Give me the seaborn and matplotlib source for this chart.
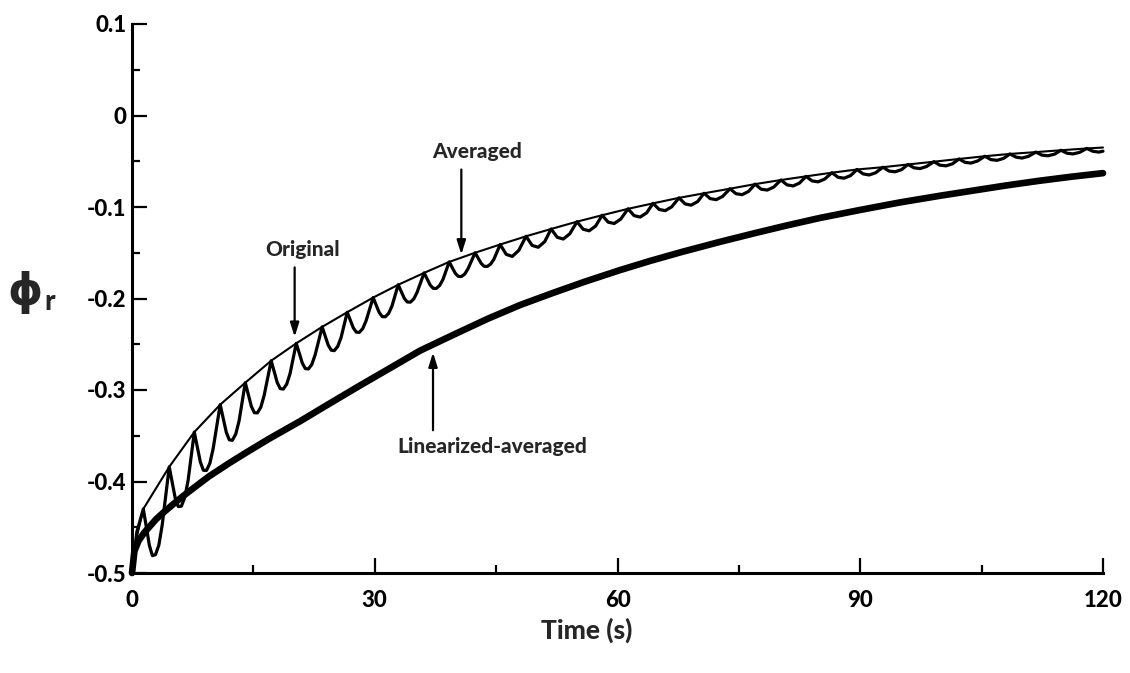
import matplotlib
matplotlib.use("Agg")
import matplotlib.pyplot as plt
import seaborn as sns

# --- data ---
# averaged curve (thin): start, then the points where the original touches it
t_avg = [0.0, 0.4, 1.4, 4.6, 7.7, 10.9, 14.0, 17.2, 20.3, 23.5, 26.6, 29.8, 32.9,
         36.1, 39.2, 42.4, 45.5, 48.7, 51.8, 55.0, 58.1, 61.3, 64.4, 67.6, 70.7,
         73.9, 77.0, 80.2, 83.3, 86.5, 89.6, 92.8, 95.9, 99.1, 102.2, 105.4,
         108.5, 111.7, 114.8, 118.0, 120.0]
phi_avg = [-0.500, -0.468, -0.430, -0.384, -0.346, -0.316, -0.292, -0.268, -0.249,
           -0.231, -0.215, -0.199, -0.185, -0.172, -0.160, -0.150, -0.141, -0.132,
           -0.124, -0.116, -0.109, -0.102, -0.096, -0.090, -0.085, -0.080, -0.075,
           -0.0705, -0.0665, -0.0625, -0.059, -0.0565, -0.0535, -0.0505, -0.0475,
           -0.0445, -0.042, -0.040, -0.038, -0.036, -0.035]

# original (oscillating) curve, traced point by point along each wiggle
t_orig = [0.0, 0.6, 1.4,
          2.15, 2.52, 2.9, 3.32, 3.73, 4.6,
          5.35, 5.72, 6.1, 6.52, 6.93, 7.7,
          8.45, 8.82, 9.2, 9.62, 10.03, 10.9,
          11.65, 12.02, 12.4, 12.82, 13.23, 14.0,
          14.75, 15.12, 15.5, 15.92, 16.33, 17.2,
          17.95, 18.32, 18.7, 19.12, 19.53, 20.3,
          21.05, 21.42, 21.8, 22.22, 22.63, 23.5,
          24.25, 24.62, 25.0, 25.42, 25.83, 26.6,
          27.35, 27.72, 28.1, 28.52, 28.93, 29.8,
          30.55, 30.92, 31.3, 31.72, 32.13, 32.9,
          33.65, 34.02, 34.4, 34.82, 35.23, 36.1,
          36.85, 37.22, 37.6, 38.02, 38.43, 39.2,
          39.95, 40.32, 40.7, 41.12, 41.53, 42.4,
          43.15, 43.52, 43.9, 44.32, 44.73, 45.5,
          46.25, 47.0, 47.8, 48.7,
          49.45, 50.2, 51.0, 51.8,
          52.55, 53.3, 54.1, 55.0,
          55.75, 56.5, 57.3, 58.1,
          58.85, 59.6, 60.4, 61.3,
          62.05, 62.8, 63.6, 64.4,
          65.15, 65.9, 66.7, 67.6,
          68.35, 69.1, 69.9, 70.7,
          71.45, 72.2, 73.0, 73.9,
          74.65, 75.4, 76.2, 77.0,
          77.75, 78.5, 79.3, 80.2,
          80.95, 81.7, 82.5, 83.3,
          84.05, 84.8, 85.6, 86.5,
          87.25, 88.0, 88.8, 89.6,
          90.35, 91.1, 91.9, 92.8,
          93.55, 94.3, 95.1, 95.9,
          96.65, 97.4, 98.2, 99.1,
          99.85, 100.6, 101.4, 102.2,
          102.95, 103.7, 104.5, 105.4,
          106.15, 106.9, 107.7, 108.5,
          109.25, 110.0, 110.8, 111.7,
          112.45, 113.2, 114.0, 114.8,
          115.55, 116.3, 117.1, 118.0,
          118.75, 119.5, 120.0]
phi_orig = [-0.500, -0.455, -0.430,
            -0.470, -0.481, -0.480, -0.4695, -0.4477, -0.384,
            -0.4184, -0.4274, -0.427, -0.4175, -0.399, -0.346,
            -0.3788, -0.3877, -0.388, -0.3802, -0.364, -0.316,
            -0.3461, -0.3544, -0.355, -0.3482, -0.3339, -0.292,
            -0.3179, -0.3248, -0.325, -0.3188, -0.306, -0.268,
            -0.2919, -0.2985, -0.299, -0.2936, -0.2822, -0.249,
            -0.2706, -0.2766, -0.277, -0.2721, -0.2617, -0.231,
            -0.251, -0.2565, -0.257, -0.2524, -0.2429, -0.215,
            -0.2321, -0.2368, -0.237, -0.2328, -0.2243, -0.199,
            -0.2153, -0.2198, -0.220, -0.2162, -0.2082, -0.185,
            -0.1998, -0.2038, -0.204, -0.2005, -0.1933, -0.172,
            -0.1853, -0.1889, -0.189, -0.1858, -0.1792, -0.160,
            -0.1724, -0.1758, -0.176, -0.1733, -0.1674, -0.150,
            -0.1616, -0.1648, -0.165, -0.1624, -0.157, -0.141,
            -0.1518, -0.154, -0.1474, -0.132,
            -0.142, -0.144, -0.1379, -0.124,
            -0.1331, -0.135, -0.1293, -0.116,
            -0.1243, -0.126, -0.1208, -0.109,
            -0.1166, -0.118, -0.1132, -0.102,
            -0.1094, -0.111, -0.1064, -0.096,
            -0.1027, -0.104, -0.0998, -0.090,
            -0.0966, -0.098, -0.0941, -0.085,
            -0.0908, -0.092, -0.0884, -0.080,
            -0.0855, -0.0865, -0.083, -0.075,
            -0.0805, -0.0815, -0.0783, -0.0705,
            -0.0758, -0.077, -0.0738, -0.0665,
            -0.0715, -0.0725, -0.0695, -0.0625,
            -0.0675, -0.0685, -0.0657, -0.059,
            -0.0638, -0.065, -0.0626, -0.0565,
            -0.0607, -0.0615, -0.0592, -0.0535,
            -0.0572, -0.058, -0.0557, -0.0505,
            -0.0543, -0.055, -0.0528, -0.0475,
            -0.0512, -0.052, -0.0497, -0.0445,
            -0.0482, -0.049, -0.0469, -0.042,
            -0.0455, -0.0465, -0.0446, -0.040,
            -0.0433, -0.044, -0.0423, -0.038,
            -0.0412, -0.042, -0.0403, -0.036,
            -0.0391, -0.040, -0.039]

# linearized-averaged curve (thick)
t_lin = [0.0, 0.3, 0.8, 1.5, 2.2, 3.0, 4.0, 5.0, 6.3, 8.0, 9.5, 12.0, 14.0, 17.0,
         20.8, 24.0, 28.0, 32.0, 35.6, 40.0, 44.0, 48.0, 52.0, 56.0, 60.3, 64.0,
         68.0, 72.7, 77.0, 81.0, 85.0, 90.0, 94.9, 100.0, 104.0, 108.0, 112.0,
         116.0, 120.0]
phi_lin = [-0.500, -0.476, -0.465, -0.456, -0.449, -0.441, -0.433, -0.4255, -0.416,
           -0.4045, -0.3945, -0.380, -0.369, -0.353, -0.334, -0.317, -0.296, -0.2755,
           -0.257, -0.2385, -0.222, -0.207, -0.194, -0.1815, -0.169, -0.159, -0.149,
           -0.138, -0.1285, -0.120, -0.112, -0.1032, -0.095, -0.0875, -0.082,
           -0.0765, -0.0715, -0.067, -0.063]

x_ticks = [0, 30, 60, 90, 120]
y_ticks = [-0.5, -0.4, -0.3, -0.2, -0.1, 0.0, 0.1]
y_labels = ["-0.5", "-0.4", "-0.3", "-0.2", "-0.1", "0", "0.1"]

sns.set_theme(style="ticks")
plt.rcParams["font.family"] = ["Lato", "DejaVu Sans"]

fig = plt.figure(figsize=(11.3, 6.73), dpi=100)
ax = fig.add_axes([132 / 1130, 1 - 573 / 673, 971 / 1130, 549 / 673])

sns.lineplot(x=t_avg, y=phi_avg, ax=ax, color="black", linewidth=1.5, sort=False,
             estimator=None, clip_on=False)
sns.lineplot(x=t_orig, y=phi_orig, ax=ax, color="black", linewidth=2.3, sort=False,
             estimator=None, clip_on=False, solid_joinstyle="round")
sns.lineplot(x=t_lin, y=phi_lin, ax=ax, color="black", linewidth=4.8, sort=False,
             estimator=None, clip_on=False, solid_capstyle="round")

ax.set_xlim(0, 120)
ax.set_ylim(-0.5, 0.1)
ax.set_xticks(x_ticks)
ax.set_xticks([15, 45, 75, 105], minor=True)
ax.set_yticks(y_ticks)
ax.set_yticklabels(y_labels)
ax.set_yticks([-0.45, -0.35, -0.25, -0.15, -0.05, 0.05], minor=True)

for s in ["top", "right"]:
    ax.spines[s].set_visible(False)
for s in ["left", "bottom"]:
    ax.spines[s].set_linewidth(2.2)
    ax.spines[s].set_color("black")

ax.tick_params(which="major", direction="in", length=11, width=1.6, colors="black",
               labelsize=16)
ax.tick_params(which="minor", direction="in", length=5.5, width=1.6, colors="black")
ax.tick_params(axis="x", which="major", pad=12)
ax.tick_params(axis="y", which="major", pad=4)
for lab in ax.get_xticklabels() + ax.get_yticklabels():
    lab.set_fontweight("black")

# annotations
arrow = dict(arrowstyle="-|>,head_width=0.22,head_length=0.7", color="black", lw=1.6)
ax.annotate("", xy=(20.1, -0.245), xytext=(20.1, -0.163), arrowprops=arrow)
ax.text(21.1, -0.146, "Original", ha="center", va="center", fontsize=15,
        fontweight="black")
ax.annotate("", xy=(40.7, -0.155), xytext=(40.7, -0.056), arrowprops=arrow)
ax.text(42.7, -0.039, "Averaged", ha="center", va="center", fontsize=15,
        fontweight="black")
ax.annotate("", xy=(37.2, -0.256), xytext=(37.2, -0.347), arrowprops=arrow)
ax.text(32.8, -0.362, "Linearized-averaged", ha="left", va="center", fontsize=15,
        fontweight="black")

# axis titles
fig.text(587 / 1130, 1 - 630 / 673, "Time (s)", ha="center", va="center",
         fontsize=19, fontweight="black")
fig.text(25 / 1130, 1 - 293 / 673, "\u03d5", ha="center", va="center", fontsize=32,
         fontweight="bold", family=["DejaVu Sans"])
fig.text(50 / 1130, 1 - 302 / 673, "r", ha="center", va="center", fontsize=20,
         fontweight="black")

fig.savefig("out.png", dpi=100)
